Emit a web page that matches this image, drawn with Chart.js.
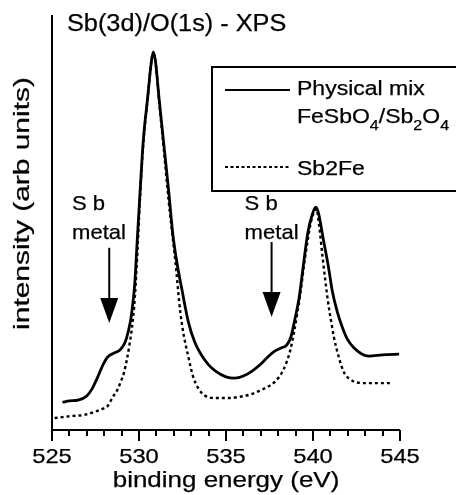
<!DOCTYPE html>
<html>
<head>
<meta charset="utf-8">
<script src="https://cdn.jsdelivr.net/npm/chart.js@4.4.1/dist/chart.umd.min.js"></script>
<style>
  html, body { margin: 0; padding: 0; background: #ffffff; }
  #wrap { width: 456px; height: 495px; }
</style>
</head>
<body>
<div id="wrap"><canvas id="c" width="456" height="495"></canvas></div>
<script>
// ---------- data ----------
const chartTitle = "Sb(3d)/O(1s) - XPS";
const xAxisTitle = "binding energy (eV)";
const yAxisTitle = "intensity (arb units)";
const xMajorTicks = [525, 530, 535, 540, 545];
const xMinorStep = 1;

const seriesNames = ["Physical mix", "Sb2Fe"];

// Physical mix FeSbO4/Sb2O4 (solid)
const energyMix = [525.6, 526.0, 526.5, 527.0, 527.3, 527.6, 527.95, 528.2, 528.6, 528.9,
  529.15, 529.3, 529.5, 529.6, 529.75, 529.9, 530.05, 530.25, 530.5, 530.7, 530.82,
  530.95, 531.15, 531.4, 531.7, 531.95, 532.2, 532.45, 532.85, 533.2, 533.55,
  534.0, 534.4, 535.0, 535.5, 536.0, 536.5, 537.0, 537.4, 537.8, 538.2,
  538.5, 538.75, 538.95, 539.2, 539.45, 539.7, 539.95, 540.15, 540.3, 540.6,
  540.9, 541.1, 541.4, 541.7, 542.0, 542.35, 542.8, 543.2, 544.0, 544.95];
const intensityMix = [6.7, 7.0, 7.2, 8.2, 9.9, 12.5, 15.9, 17.6, 18.6, 19.3,
  20.7, 22.4, 26.0, 28.9, 34.9, 45.8, 56.6, 69.9, 80.2, 88.4, 91.1,
  88.7, 80.0, 69.9, 57.8, 47.0, 39.8, 34.2, 25.8, 21.2, 18.3,
  15.7, 14.2, 12.8, 12.5, 13.0, 14.2, 15.9, 17.6, 19.0, 19.8,
  20.5, 22.7, 26.5, 31.8, 39.8, 47.5, 51.8, 53.7, 52.5, 45.8,
  39.0, 33.7, 28.4, 24.6, 21.7, 19.8, 18.3, 17.8, 18.1, 18.3];

// Sb2Fe (dotted)
const energySb2Fe = [525.15, 525.6, 526.2, 526.8, 527.4, 527.9, 528.2, 528.5, 528.75, 528.95,
  529.15, 529.3, 529.45, 529.6, 529.75, 529.9, 530.05, 530.25, 530.5, 530.7,
  530.82, 530.95, 531.15, 531.4, 531.7, 531.9, 532.1, 532.38, 532.6, 532.8,
  533.1, 533.4, 533.75, 534.3, 535.1, 535.8, 536.5, 537.0, 537.4, 537.8,
  538.3, 538.7, 538.9, 539.1, 539.3, 539.47, 539.7, 539.87, 540.05, 540.2,
  540.35, 540.55, 540.85, 541.05, 541.2, 541.5, 541.8, 542.1, 542.4, 543.0,
  543.8, 544.5];
const intensitySb2Fe = [2.9, 3.1, 3.4, 3.6, 4.3, 5.1, 5.8, 8.0, 9.6, 11.6,
  14.0, 16.9, 20.5, 24.8, 31.3, 42.2, 55.4, 69.2, 80.0, 88.4,
  90.8, 88.7, 79.5, 68.7, 55.4, 47.7, 40.2, 28.2, 22.2, 18.3,
  13.0, 10.1, 8.4, 7.7, 7.7, 8.0, 8.7, 9.6, 10.4, 11.6,
  14.5, 19.3, 23.4, 28.2, 33.7, 39.3, 45.8, 49.9, 52.5, 53.3,
  49.4, 41.7, 31.3, 26.0, 22.4, 17.3, 13.7, 12.3, 11.6, 11.3,
  11.3, 11.3];

// "Sb metal" annotations: text left edge (eV), arrow position (eV), arrow top / tip (intensity)
const annotText = ["S b", "metal"];
const annotTextX = [526.15, 536.07];
const annotArrowX = [528.29, 537.62];
const annotArrowTop = [43.9, 45.3];
const annotArrowTip = [25.8, 27.2];

// ---------- helpers ----------
const FONT = '"Liberation Sans", Arial, Helvetica, sans-serif';
function txt(ctx, s, x, y, size, sx, align, rot) {
  ctx.save();
  ctx.translate(x, y);
  if (rot) ctx.rotate(rot);
  ctx.scale(sx, 1);
  ctx.font = size + 'px ' + FONT;
  ctx.textAlign = align || 'left';
  ctx.textBaseline = 'alphabetic';
  ctx.fillStyle = '#000';
  ctx.strokeStyle = '#000';
  ctx.lineWidth = 0.25;
  ctx.fillText(s, 0, 0);
  ctx.strokeText(s, 0, 0);
  const w = ctx.measureText(s).width * sx;
  ctx.restore();
  return w;
}

const decor = {
  id: 'decor',
  afterDraw(chart) {
    const ctx = chart.ctx;
    const xs = chart.scales.x, ys = chart.scales.y;
    const a = chart.chartArea;
    ctx.save();
    ctx.strokeStyle = '#000';
    ctx.fillStyle = '#000';
    ctx.lineCap = 'butt';
    // axes
    ctx.lineWidth = 2;
    ctx.beginPath();
    ctx.moveTo(a.left, a.top);
    ctx.lineTo(a.left, a.bottom);
    ctx.lineTo(a.right, a.bottom);
    ctx.stroke();
    // ticks
    for (let v = xs.min; v <= xs.max + 1e-9; v += xMinorStep) {
      const px = Math.round(xs.getPixelForValue(v));
      const major = xMajorTicks.indexOf(Math.round(v)) >= 0;
      ctx.beginPath();
      ctx.moveTo(px, a.bottom);
      ctx.lineTo(px, a.bottom + (major ? 11 : 6));
      ctx.stroke();
    }
    // tick labels
    xMajorTicks.forEach(v => {
      txt(ctx, String(v), xs.getPixelForValue(v), 463, 21, 1.13, 'center');
    });
    // axis titles
    txt(ctx, xAxisTitle, 226, 487, 22, 1.18, 'center');
    txt(ctx, yAxisTitle, 29, 203.5, 22, 1.36, 'center', -Math.PI / 2);
    // chart title
    txt(ctx, chartTitle, 67, 31, 23, 1.1, 'left');

    // legend box
    ctx.lineWidth = 2;
    ctx.strokeRect(212, 67, 260, 124);
    ctx.beginPath();
    ctx.moveTo(225, 90); ctx.lineTo(290, 90);
    ctx.stroke();
    ctx.setLineDash([3, 2.5]);
    ctx.beginPath();
    ctx.moveTo(225, 167); ctx.lineTo(290, 167);
    ctx.stroke();
    ctx.setLineDash([]);
    txt(ctx, seriesNames[0], 297, 95, 20, 1.15, 'left');
    // FeSbO4/Sb2O4 with subscripts
    const parts = [["FeSbO", false], ["4", true], ["/Sb", false], ["2", true], ["O", false], ["4", true]];
    let cx = 297;
    parts.forEach(p => {
      if (p[1]) cx += txt(ctx, p[0], cx, 130, 14, 1.15, 'left');
      else cx += txt(ctx, p[0], cx, 123, 20, 1.15, 'left');
    });
    txt(ctx, seriesNames[1], 297, 175, 20, 1.15, 'left');

    // annotations
    for (let i = 0; i < annotArrowX.length; i++) {
      const tx = xs.getPixelForValue(annotTextX[i]);
      txt(ctx, annotText[0], tx, 210, 21, 1.05, 'left');
      txt(ctx, annotText[1], tx, 239, 21, 1.05, 'left');
      const ax = xs.getPixelForValue(annotArrowX[i]);
      const yTop = ys.getPixelForValue(annotArrowTop[i]);
      const yTip = ys.getPixelForValue(annotArrowTip[i]);
      ctx.lineWidth = 2;
      ctx.beginPath();
      ctx.moveTo(ax, yTop);
      ctx.lineTo(ax, yTip - 20);
      ctx.stroke();
      ctx.beginPath();
      ctx.moveTo(ax - 9, yTip - 25);
      ctx.lineTo(ax + 9, yTip - 25);
      ctx.lineTo(ax, yTip);
      ctx.closePath();
      ctx.fill();
    }
    ctx.restore();
  }
};

const toPts = (xsArr, ysArr) => xsArr.map((x, i) => ({ x: x, y: ysArr[i] }));

new Chart(document.getElementById('c'), {
  type: 'line',
  data: {
    datasets: [
      {
        label: seriesNames[0],
        data: toPts(energyMix, intensityMix),
        borderColor: '#000',
        borderWidth: 2.8,
        pointRadius: 0,
        fill: false,
        cubicInterpolationMode: 'monotone'
      },
      {
        label: seriesNames[1],
        data: toPts(energySb2Fe, intensitySb2Fe),
        borderColor: '#000',
        borderWidth: 2.4,
        borderDash: [3, 3],
        pointRadius: 0,
        fill: false,
        cubicInterpolationMode: 'monotone'
      }
    ]
  },
  options: {
    responsive: false,
    animation: false,
    devicePixelRatio: 1,
    layout: { padding: { left: 52, right: 56, top: 15, bottom: 65 } },
    plugins: { legend: { display: false }, tooltip: { enabled: false }, title: { display: false } },
    scales: {
      x: { type: 'linear', min: 525, max: 545, display: false },
      y: { type: 'linear', min: 0, max: 100, display: false }
    }
  },
  plugins: [decor]
});
</script>
</body>
</html>
